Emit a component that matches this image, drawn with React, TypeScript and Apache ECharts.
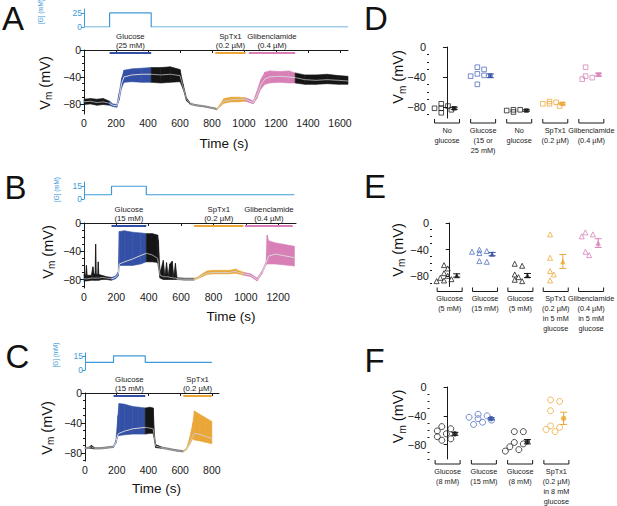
import React, { useEffect, useRef } from "react";
import * as echarts from "echarts";

// ---------------- Panel A ----------------
const aStepTimes = [0, 160, 420, 1650];
const aStepLevels = [0, 25, 0, 0];
const aStepTicks = [0, 25];
const aTimeTicks = [0, 200, 400, 600, 800, 1000, 1200, 1400, 1600];
const aTreatStart = [160, 820, 1030];
const aTreatEnd = [420, 1010, 1320];
const aTreatName = ["Glucose\n(25 mM)", "SpTx1\n(0.2 µM)", "Glibenclamide\n(0.4 µM)"];
const aTreatKind = ["glucose", "sptx", "glib"];
const aPhaseStart = [0, 160, 420, 830, 1010, 1320];
const aPhaseKind = ["none", "glucose", "none", "sptx", "glib", "none"];
const aT = [0, 40, 80, 120, 160, 180, 205, 220, 235, 250, 300, 360, 420, 480, 540, 600, 620, 640, 665, 700, 760, 820, 830, 850, 875, 920, 970, 1010, 1035, 1058, 1080, 1105, 1130, 1160, 1220, 1280, 1320, 1380, 1450, 1520, 1590, 1650];
const aMean = [-77, -76, -78, -77, -79, -82, -83, -70, -50, -40, -37, -36, -36, -37, -36, -38, -55, -73, -80, -82, -84, -87, -88, -83, -76, -74, -73, -73, -76, -78, -68, -52, -43, -40, -39, -40, -41, -44, -45, -44, -45, -46];
const aLo = [-81, -80, -82, -81, -82, -84, -85, -74, -56, -48, -47, -48, -48, -49, -48, -47, -58, -75, -81, -83, -85, -88, -89, -84, -79, -77, -77, -76, -78, -80, -72, -58, -51, -49, -48, -49, -49, -51, -51, -50, -51, -51];
const aHi = [-73, -72, -73, -72, -76, -80, -81, -64, -42, -30, -28, -27, -26, -26, -25, -29, -51, -71, -79, -81, -83, -86, -87, -81, -72, -70, -70, -71, -73, -76, -62, -44, -33, -31, -32, -31, -34, -37, -37, -36, -38, -39];

// ---------------- Panel B ----------------
const bStepTimes = [0, 170, 385, 1300];
const bStepLevels = [5, 15, 5, 5];
const bStepTicks = [0, 15];
const bTimeTicks = [0, 200, 400, 600, 800, 1000, 1200];
const bTreatStart = [170, 680, 995];
const bTreatEnd = [385, 985, 1290];
const bTreatName = ["Glucose\n(15 mM)", "SpTx1\n(0.2 µM)", "Glibenclamide\n(0.4 µM)"];
const bTreatKind = ["glucose", "sptx", "glib"];
const bPhaseStart = [0, 170, 385, 680, 990];
const bPhaseKind = ["none", "glucose", "none", "sptx", "glib"];
const bT = [0, 10, 15, 20, 45, 55, 62, 68, 72, 76, 85, 88, 92, 110, 140, 170, 195, 212, 218, 250, 300, 350, 385, 420, 455, 460, 470, 490, 500, 510, 520, 530, 545, 555, 565, 575, 620, 680, 700, 730, 760, 800, 850, 900, 940, 950, 990, 1030, 1070, 1100, 1125, 1132, 1140, 1180, 1230, 1300];
const bMean = [-79, -79, -79, -79, -78, -78, -78, -78, -78, -78, -78, -78, -78, -77, -78, -79, -77, -72, -58, -55, -51, -46, -43, -45, -50, -58, -74, -76, -76, -76, -76, -77, -77, -78, -78, -79, -80, -80, -78, -74, -71, -70, -70, -70, -68, -70, -72, -74, -80, -70, -57, -52, -47, -44, -46, -49];
const bLo = [-83, -82, -82, -82, -81, -81, -81, -81, -81, -81, -81, -81, -81, -80, -80, -81, -79, -75, -60, -60, -60, -58, -55, -55, -56, -62, -78, -80, -80, -80, -80, -80, -80, -80, -80, -80, -81, -81, -79, -76, -73, -72, -72, -72, -71, -72, -74, -76, -82, -72, -59, -58, -58, -58, -59, -61];
const bHi = [-72, -74, -60, -74, -74, -62, -72, -73, -30, -72, -73, -55, -73, -74, -76, -77, -75, -69, -12, -11, -13, -14, -15, -15, -17, -25, -70, -53, -74, -56, -74, -58, -54, -75, -57, -77, -78, -78, -77, -72, -68, -67, -67, -67, -65, -67, -70, -72, -78, -68, -55, -17, -25, -28, -30, -33];

// ---------------- Panel C ----------------
const cStepTimes = [0, 180, 380, 800];
const cStepLevels = [8, 15, 8, 8];
const cStepTicks = [0, 15];
const cTimeTicks = [0, 200, 400, 600, 800];
const cTreatStart = [180, 620];
const cTreatEnd = [380, 800];
const cTreatName = ["Glucose\n(15 mM)", "SpTx1\n(0.2 µM)"];
const cTreatKind = ["glucose", "sptx"];
const cPhaseStart = [0, 180, 380, 620];
const cPhaseKind = ["none", "glucose", "none", "sptx"];
const cT = [0, 30, 40, 60, 100, 140, 180, 195, 208, 215, 250, 300, 340, 380, 410, 430, 438, 445, 480, 530, 580, 620, 640, 660, 680, 690, 720, 760, 800];
const cMean = [-74, -73, -72, -74, -74, -73, -72, -65, -55, -54, -51, -48, -47, -46, -47, -48, -60, -71, -73, -75, -77, -78, -75, -67, -57, -54, -55, -58, -61];
const cLo = [-75, -74, -74, -75, -75, -74, -73, -67, -57, -57, -56, -55, -55, -55, -54, -54, -63, -73, -74, -76, -78, -79, -76, -69, -61, -63, -64, -66, -68];
const cHi = [-73, -72, -70, -73, -73, -72, -71, -63, -30, -14, -15, -18, -19, -20, -19, -20, -55, -69, -72, -74, -76, -77, -74, -60, -40, -24, -28, -33, -38];

// ---------------- Panel D ----------------
const dCats = ["No\nglucose", "Glucose\n(15 or\n25 mM)", "No\nglucose", "SpTx1\n(0.2 µM)", "Glibenclamide\n(0.4 µM)"];
const dKinds = ["none", "glucose", "none", "sptx", "glib"];
const dValues = [[-76, -79, -82, -82, -84, -88], [-27, -30, -36, -38, -39, -50], [-84, -84, -85, -87], [-73, -74, -76, -76, -79], [-27, -39, -41, -43]];
const dMeans = [-82, -38.5, -85, -76, -37];
const dSems = [1.5, 2.5, 1, 1.5, 2];

// ---------------- Panel E ----------------
const eCats = ["Glucose\n(5 mM)", "Glucose\n(15 mM)", "Glucose\n(5 mM)", "SpTx1\n(0.2 µM)\nin 5 mM\nglucose", "Glibenclamide\n(0.4 µM)\nin 5 mM\nglucose"];
const eKinds = ["none", "glucose", "none", "sptx", "glib"];
const eValues = [[-63, -68, -75, -79, -82, -84, -86, -87], [-40, -42, -43, -45, -57, -58], [-61, -64, -77, -81, -85, -87], [-17, -52, -72, -77, -86], [-14, -17, -20, -43, -48]];
const eMeans = [-78.5, -46.5, -78.5, -57.5, -30];
const eSems = [2.5, 2.5, 3, 10.5, 6.5];

// ---------------- Panel F ----------------
const fCats = ["Glucose\n(8 mM)", "Glucose\n(15 mM)", "Glucose\n(8 mM)", "SpTx1\n(0.2 µM)\nin 8 mM\nglucose"];
const fKinds = ["none", "glucose", "none", "sptx"];
const fValues = [[-55, -58, -61, -65, -69, -72, -74], [-38, -40, -42, -44, -46, -49, -52], [-62, -62, -77, -79, -83, -87, -89], [-18, -20, -33, -54, -56, -59, -62]];
const fMeans = [-65, -44, -76, -43.5];
const fSems = [2, 1.5, 3, 8.5];

const vmTicks = [-80, -40, 0];

// ---------------- styles ----------------
const F = '"Liberation Sans", Arial, Helvetica, sans-serif';
const INK = "#1a1a1a";
const STEP_BLUE = "#3e9ad6";
const QUIET = "#6e6e6e";
const KIND_COLOR: Record<string, string> = { none: "#151515", glucose: "#3450a6", sptx: "#eaa636", glib: "#d77fb6" };
const KIND_LINE: Record<string, string> = { none: "#9a9a9a", glucose: "#d4d4d4", sptx: "#cfcfcf", glib: "#d6d6d6" };
const KIND_OPEN: Record<string, string> = { none: "#222222", glucose: "#5270c0", sptx: "#eeaa3c", glib: "#d884ba" };

const fmt = (v: number) => (v < 0 ? "\u2212" + Math.abs(v) : String(v));
const plain = (v: number) => String(v);
const minorOf = (min: number) => {
  const out: number[] = [];
  for (let v = -10; v >= min; v -= 10) if (vmTicks.indexOf(v) < 0) out.push(v);
  return out;
};

function stepX(g: number, max: number) {
  return { type: "value", gridIndex: g, min: 0, max, show: false };
}
function traceX(g: number, max: number, ticks: number[]) {
  return {
    type: "value", gridIndex: g, min: 0, max, position: "bottom",
    axisLine: { show: true, lineStyle: { color: INK, width: 1 } },
    axisTick: { show: true, customValues: ticks, length: 3, lineStyle: { color: INK } },
    axisLabel: { customValues: ticks, fontSize: 10.5, color: INK, fontFamily: F, margin: 3, formatter: plain },
    splitLine: { show: false },
  };
}
function stepY(g: number, max: number, ticks: number[]) {
  return {
    type: "value", gridIndex: g, min: 0, max, position: "left",
    axisLine: { show: true, lineStyle: { color: STEP_BLUE, width: 1 } },
    axisTick: { show: true, customValues: ticks, length: 3, lineStyle: { color: STEP_BLUE } },
    axisLabel: { customValues: ticks, fontSize: 8.5, color: STEP_BLUE, fontFamily: F, margin: 2, formatter: plain },
    splitLine: { show: false },
  };
}
function vmY(g: number, min: number, size: number) {
  return {
    type: "value", gridIndex: g, min, max: 0, position: "left",
    axisLine: { show: true, lineStyle: { color: INK, width: 1 } },
    axisTick: { show: true, customValues: vmTicks, length: 4, lineStyle: { color: INK } },
    axisLabel: { customValues: vmTicks, fontSize: size, color: INK, fontFamily: F, margin: 3, formatter: fmt },
    splitLine: { show: false },
  };
}
function vmMinorY(g: number, min: number) {
  return {
    type: "value", gridIndex: g, min, max: 0, position: "left", offset: 0,
    axisLine: { show: false },
    axisTick: { show: true, customValues: minorOf(min), length: 2, lineStyle: { color: INK } },
    axisLabel: { show: false },
    splitLine: { show: false },
  };
}
function catX(g: number, cats: string[]) {
  return {
    type: "category", gridIndex: g, data: cats, position: "bottom", boundaryGap: true,
    axisLine: { show: false }, axisTick: { show: false },
    axisLabel: { interval: 0, fontSize: 7.3, lineHeight: 10, color: INK, fontFamily: F, margin: 7 },
  };
}
function valX(g: number, n: number) {
  return { type: "value", gridIndex: g, min: -0.5, max: n - 0.5, show: false, position: "bottom" };
}

function stepSeries(xi: number, yi: number, times: number[], levels: number[]) {
  return {
    type: "line", xAxisIndex: xi, yAxisIndex: yi, step: "end", symbol: "none", silent: true,
    data: times.map((t, i) => [t, levels[i]]),
    lineStyle: { color: STEP_BLUE, width: 1.2 },
  };
}

// noise envelope drawn as quadrilaterals between consecutive samples, plus the mean line
function traceSeries(xi: number, yi: number, t: number[], mean: number[], lo: number[], hi: number[], starts: number[], kinds: string[]) {
  const out: any[] = [];
  const tEnd = t[t.length - 1];
  starts.forEach((s, k) => {
    const e = k + 1 < starts.length ? starts[k + 1] : tEnd;
    const idx = t.map((_, i) => i).filter((i) => t[i] >= s && t[i] <= e);
    const col = KIND_COLOR[kinds[k]];
    const isNone = kinds[k] === "none";
    const segs: number[][] = [];
    for (let j = 0; j + 1 < idx.length; j++) {
      const i0 = idx[j], i1 = idx[j + 1];
      segs.push([t[i0], lo[i0], hi[i0], t[i1], lo[i1], hi[i1]]);
    }
    out.push({
      type: "custom", xAxisIndex: xi, yAxisIndex: yi, silent: true, z: 2,
      data: segs, encode: { x: [0, 3], y: [1, 2, 4, 5] },
      renderItem: (_p: any, api: any) => {
        const a = api.coord([api.value(0), api.value(1)]);
        const b = api.coord([api.value(0), api.value(2)]);
        const c = api.coord([api.value(3), api.value(5)]);
        const d = api.coord([api.value(3), api.value(4)]);
        const quiet = isNone && api.value(2) - api.value(1) <= 3 && api.value(5) - api.value(4) <= 3;
        const fill = quiet ? QUIET : col;
        return { type: "polygon", shape: { points: [a, b, c, d] }, style: { fill, stroke: fill, lineWidth: 0.6 } };
      },
    });
    out.push({
      type: "line", xAxisIndex: xi, yAxisIndex: yi, symbol: "none", silent: true, z: 3,
      data: idx.map((i) => [t[i], mean[i]]), lineStyle: { width: 1, color: KIND_LINE[kinds[k]] },
    });
  });
  return out;
}

function treatSeries(xi: number, yi: number, starts: number[], ends: number[], names: string[], kinds: string[]) {
  return {
    type: "custom", xAxisIndex: xi, yAxisIndex: yi, clip: false, silent: true, z: 5,
    data: starts.map((s, i) => [s, ends[i], -50, i]),
    encode: { x: [0, 1], y: 2 },
    renderItem: (_p: any, api: any) => {
      const i = api.value(3);
      const a = api.coord([api.value(0), 0]);
      const b = api.coord([api.value(1), 0]);
      const y = a[1] + 3;
      return {
        type: "group",
        children: [
          { type: "line", shape: { x1: a[0], y1: y, x2: b[0], y2: y }, style: { stroke: KIND_COLOR[kinds[i]], lineWidth: 2 } },
          {
            type: "text", x: (a[0] + b[0]) / 2, y: y - 3,
            style: { text: names[i], fontSize: 7.8, lineHeight: 9, fontFamily: F, fill: "#222", align: "center", verticalAlign: "bottom" },
          },
        ],
      };
    },
  };
}

function swarm(vals: number[], size: number, pxPerMv: number) {
  const placed: { x: number; v: number }[] = [];
  const cands = [0, 1, -1, 2, -2, 3, -3];
  return vals.map((v) => {
    for (const c of cands) {
      const x = c * size * 0.75;
      if (placed.every((p) => Math.hypot(p.x - x, (p.v - v) * pxPerMv) >= size * 0.9)) {
        placed.push({ x, v });
        return [x, v];
      }
    }
    placed.push({ x: 0, v });
    return [0, v];
  });
}

function scatterSeries(xi: number, yi: number, cats: string[], values: number[][], means: number[], sems: number[], kinds: string[], symbol: string, size: number, meanSize: number, pxPerCat: number, pxPerMv: number, yMin: number) {
  const open: any[] = [];
  values.forEach((vals, c) => {
    swarm(vals, size, pxPerMv).forEach(([dx, v]) => {
      open.push({ value: [c - 0.16 + dx / pxPerCat, v], itemStyle: { borderColor: KIND_OPEN[kinds[c]] } });
    });
  });
  const meanData = means.map((m, c) => ({ value: [c + 0.2, m], itemStyle: { color: KIND_COLOR[kinds[c]] } }));
  return [
    {
      type: "scatter", xAxisIndex: xi, yAxisIndex: yi, symbol, symbolSize: size, silent: true, z: 3,
      itemStyle: { color: "rgba(255,255,255,0)", borderWidth: 1 }, data: open,
    },
    {
      type: "custom", xAxisIndex: xi, yAxisIndex: yi, clip: false, silent: true, z: 3,
      data: means.map((m, c) => [c + 0.2, m, sems[c], c]),
      encode: { x: 0, y: 1 },
      renderItem: (_p: any, api: any) => {
        const x = api.value(0), m = api.value(1), s = api.value(2), k = api.value(3);
        const top = api.coord([x, m + s]);
        const bot = api.coord([x, m - s]);
        const col = KIND_COLOR[kinds[k]];
        const w = 3.5;
        const st = { stroke: col, lineWidth: 1 };
        return {
          type: "group",
          children: [
            { type: "line", shape: { x1: top[0], y1: top[1], x2: bot[0], y2: bot[1] }, style: st },
            { type: "line", shape: { x1: top[0] - w, y1: top[1], x2: top[0] + w, y2: top[1] }, style: st },
            { type: "line", shape: { x1: bot[0] - w, y1: bot[1], x2: bot[0] + w, y2: bot[1] }, style: st },
          ],
        };
      },
    },
    {
      type: "scatter", xAxisIndex: xi, yAxisIndex: yi, symbol, symbolSize: meanSize, silent: true, z: 4, data: meanData,
    },
    {
      type: "custom", xAxisIndex: xi, yAxisIndex: yi, clip: false, silent: true, z: 3,
      data: cats.map((_, i) => [i, yMin]),
      encode: { x: 0, y: 1 },
      renderItem: (_p: any, api: any) => {
        const c = api.coord([api.value(0), api.value(1)]);
        const hw = 12.5;
        const y0 = c[1] + 1, y1 = c[1] + 5;
        return {
          type: "polyline",
          shape: { points: [[c[0] - hw, y0], [c[0] - hw, y1], [c[0] + hw, y1], [c[0] + hw, y0]] },
          style: { stroke: INK, lineWidth: 1, fill: "none" },
        };
      },
    },
  ];
}

function letter(text: string, x: number, y: number) {
  return { type: "text", x, y, style: { text, fontSize: 33, lineHeight: 33, fontFamily: F, fill: "#111", align: "left", verticalAlign: "top" } };
}
function vmLabel(x: number, y: number) {
  return {
    type: "text", x, y, rotation: Math.PI / 2,
    style: {
      text: "{v|V}{s|m}{v| (mV)}", align: "center", verticalAlign: "middle",
      rich: {
        v: { fontSize: 14.5, fontFamily: F, fill: "#111", lineHeight: 18, verticalAlign: "middle" },
        s: { fontSize: 10, fontFamily: F, fill: "#111", lineHeight: 10, verticalAlign: "bottom" },
      },
    },
  };
}
function gLabel(x: number, y: number) {
  return { type: "text", x, y, rotation: Math.PI / 2, style: { text: "[G] (mM)", fontSize: 6.3, fontFamily: F, fill: STEP_BLUE, align: "center", verticalAlign: "middle" } };
}
function timeLabel(x: number, y: number) {
  return { type: "text", x, y, style: { text: "Time (s)", fontSize: 13.5, fontFamily: F, fill: "#111", align: "center", verticalAlign: "middle" } };
}

function buildOption() {
  const grid = [
    { left: 84, top: 9, width: 264, height: 18 },
    { left: 84, top: 50, width: 264, height: 64 },
    { left: 84, top: 182, width: 212, height: 17 },
    { left: 84, top: 223, width: 212, height: 65 },
    { left: 85, top: 353, width: 134, height: 17 },
    { left: 85, top: 393, width: 134, height: 68 },
    { left: 429, top: 47, width: 185, height: 71 },
    { left: 432, top: 223, width: 179, height: 63.5 },
    { left: 429.5, top: 387, width: 145, height: 74 },
  ];
  const xAxis = [
    stepX(0, 1650), traceX(1, 1650, aTimeTicks),
    stepX(2, 1310), traceX(3, 1310, bTimeTicks),
    stepX(4, 845), traceX(5, 845, cTimeTicks),
    catX(6, dCats), valX(6, dCats.length),
    catX(7, eCats), valX(7, eCats.length),
    catX(8, fCats), valX(8, fCats.length),
  ];
  const yAxis = [
    stepY(0, 32, aStepTicks), vmY(1, -95, 10.5), vmMinorY(1, -95),
    stepY(2, 20, bStepTicks), vmY(3, -92, 10.5), vmMinorY(3, -92),
    stepY(4, 18, cStepTicks), vmY(5, -91, 10.5), vmMinorY(5, -91),
    vmY(6, -95, 11), vmMinorY(6, -95),
    vmY(7, -95, 11), vmMinorY(7, -95),
    vmY(8, -100, 11), vmMinorY(8, -100),
  ];
  const series: any[] = [
    stepSeries(0, 0, aStepTimes, aStepLevels),
    ...traceSeries(1, 1, aT, aMean, aLo, aHi, aPhaseStart, aPhaseKind),
    treatSeries(1, 1, aTreatStart, aTreatEnd, aTreatName, aTreatKind),
    stepSeries(2, 3, bStepTimes, bStepLevels),
    ...traceSeries(3, 4, bT, bMean, bLo, bHi, bPhaseStart, bPhaseKind),
    treatSeries(3, 4, bTreatStart, bTreatEnd, bTreatName, bTreatKind),
    stepSeries(4, 6, cStepTimes, cStepLevels),
    ...traceSeries(5, 7, cT, cMean, cLo, cHi, cPhaseStart, cPhaseKind),
    treatSeries(5, 7, cTreatStart, cTreatEnd, cTreatName, cTreatKind),
    ...scatterSeries(7, 9, dCats, dValues, dMeans, dSems, dKinds, "rect", 4.6, 4.6, 37, 0.75, -95),
    ...scatterSeries(9, 11, eCats, eValues, eMeans, eSems, eKinds, "triangle", 5, 5.5, 35.8, 0.667, -95),
    ...scatterSeries(11, 13, fCats, fValues, fMeans, fSems, fKinds, "circle", 6, 5.5, 36.25, 0.74, -100),
  ];
  const graphic = [
    letter("A", 2, 2.2), letter("D", 364, 2.2),
    letter("B", 4.5, 170.5), letter("E", 364, 170),
    letter("C", 5.5, 339.5), letter("F", 364.5, 344),
    vmLabel(44.5, 83), vmLabel(47.5, 252), vmLabel(46.7, 428),
    vmLabel(398, 77), vmLabel(397.5, 250), vmLabel(398.3, 416.5),
    gLabel(40.5, 11.5), gLabel(56, 189.5), gLabel(55.5, 355),
    timeLabel(224, 143), timeLabel(231, 316.7), timeLabel(156.5, 488),
  ];
  return { animation: false, backgroundColor: "#ffffff", textStyle: { fontFamily: F }, grid, xAxis, yAxis, series, graphic };
}

export default function App() {
  const ref = useRef<HTMLDivElement>(null);
  useEffect(() => {
    if (!ref.current) return;
    const chart = echarts.init(ref.current, undefined, { renderer: "svg", width: 617, height: 506 });
    chart.setOption(buildOption() as any);
    return () => chart.dispose();
  }, []);
  return <div ref={ref} style={{ position: "absolute", left: 0, top: 0, width: 617, height: 506, background: "#fff" }} />;
}
